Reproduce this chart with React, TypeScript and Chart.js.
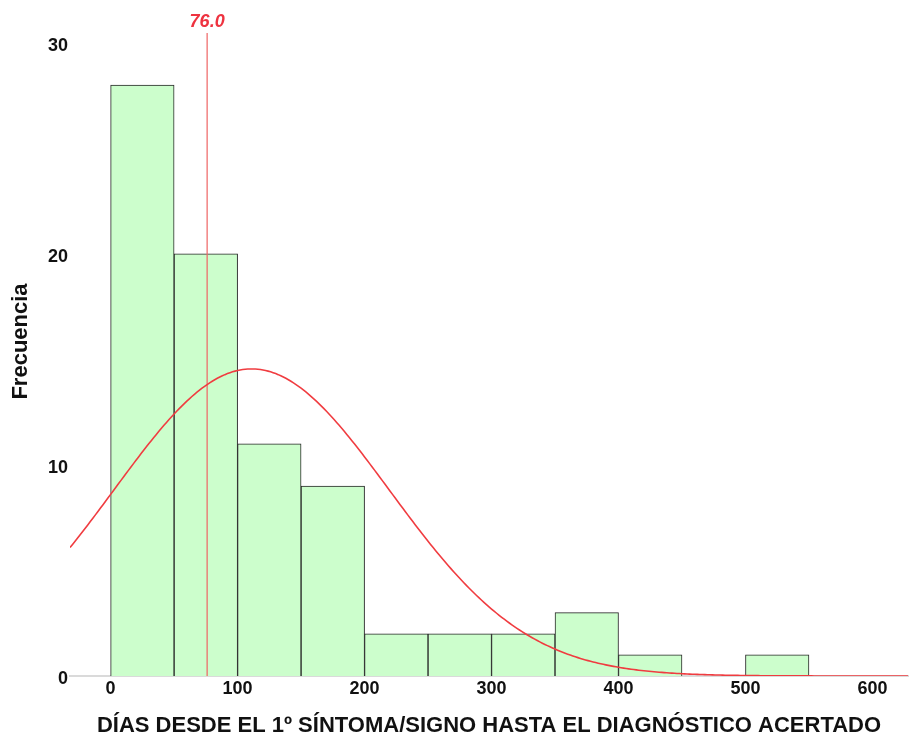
import React, { useEffect, useRef } from 'react';
import { Chart, registerables } from 'chart.js';

Chart.register(...registerables);

// ---- data ----
const binStarts = [0, 50, 100, 150, 200, 250, 300, 350, 400, 450, 500];
const binWidth = 50;
const frequencies = [28, 20, 11, 9, 2, 2, 2, 3, 1, 0, 1];
const xTickValues = [0, 100, 200, 300, 400, 500, 600];
const yTickValues = [0, 10, 20, 30];
const medianValue = 76.0;
const medianLineTop = 30.47;
const fitMean = 111;
const fitSd = 108.3;
const totalN = 79;
const xMin = -32;
const xMax = 628;
const yMax = 31.7;
const xTitle = 'DÍAS DESDE EL 1º SÍNTOMA/SIGNO HASTA EL DIAGNÓSTICO ACERTADO';
const yTitle = 'Frecuencia';

const FONT = '"Liberation Sans", Arial, sans-serif';

const medianLabelPlugin = {
  id: 'medianLabel',
  afterDatasetsDraw(chart: any) {
    const { ctx, scales } = chart;
    const x = scales.x.getPixelForValue(medianValue);
    const y = scales.y.getPixelForValue(medianLineTop);
    ctx.save();
    ctx.fillStyle = '#ee3340';
    ctx.font = `italic bold 18px ${FONT}`;
    ctx.textAlign = 'center';
    ctx.textBaseline = 'middle';
    ctx.fillText(medianValue.toFixed(1), x, y - 11);
    ctx.restore();
  },
};

export default function App() {
  const ref = useRef<HTMLCanvasElement | null>(null);

  useEffect(() => {
    document.body.style.margin = '0';
    const barData = binStarts.map((s, i) => ({ x: s + binWidth / 2, y: frequencies[i] === 0 ? null : frequencies[i] }));
    const curve: { x: number; y: number }[] = [];
    for (let x = xMin; x <= xMax; x += 2) {
      const z = (x - fitMean) / fitSd;
      curve.push({ x, y: (totalN * binWidth) / (fitSd * Math.sqrt(2 * Math.PI)) * Math.exp(-0.5 * z * z) });
    }
    const chart = new Chart(ref.current as HTMLCanvasElement, {
      type: 'bar',
      data: {
        datasets: [
          {
            type: 'line',
            data: curve,
            borderColor: '#f03c40',
            borderWidth: 1.6,
            pointRadius: 0,
            tension: 0,
            fill: false,
            order: 1,
          } as any,
          {
            type: 'line',
            data: [
              { x: medianValue, y: 0 },
              { x: medianValue, y: medianLineTop },
            ],
            borderColor: '#ef6464',
            borderWidth: 1.2,
            pointRadius: 0,
            fill: false,
            order: 2,
          } as any,
          {
            type: 'bar',
            data: barData,
            backgroundColor: '#ccfecc',
            borderColor: '#262626',
            borderWidth: 1,
            barPercentage: 1,
            categoryPercentage: 1,
            order: 3,
          } as any,
        ],
      },
      options: {
        animation: false,
        responsive: true,
        maintainAspectRatio: false,
        layout: { padding: { top: 7, right: 1, left: 0, bottom: 0 } },
        plugins: { legend: { display: false }, tooltip: { enabled: false } },
        scales: {
          x: {
            type: 'linear',
            min: xMin,
            max: xMax,
            offset: false,
            grid: { display: false, drawTicks: false, offset: false },
            border: { display: true, color: '#dadada', width: 2 },
            afterBuildTicks: (s: any) => {
              s.ticks = xTickValues.map((v) => ({ value: v }));
            },
            afterFit: (s: any) => {
              s.height = 60;
              s.paddingLeft = 0;
              s.paddingRight = 0;
            },
            ticks: {
              padding: 2,
              maxRotation: 0,
              autoSkip: false,
              color: '#111',
              font: { family: FONT, size: 18, weight: 'bold' },
            },
            title: {
              display: true,
              text: xTitle,
              color: '#111',
              padding: { top: 0, bottom: -3 },
              font: { family: FONT, size: 22, weight: 'bold' },
            },
          },
          y: {
            type: 'linear',
            min: 0,
            max: yMax,
            grid: { display: false, drawTicks: false },
            border: { display: false },
            afterBuildTicks: (s: any) => {
              s.ticks = yTickValues.map((v) => ({ value: v }));
            },
            afterFit: (s: any) => {
              s.width = 70;
              s.paddingTop = 0;
              s.paddingBottom = 0;
            },
            ticks: {
              padding: 2,
              labelOffset: 3,
              color: '#111',
              font: { family: FONT, size: 18, weight: 'bold' },
            },
            title: {
              display: true,
              text: yTitle,
              color: '#111',
              padding: { top: 8, bottom: 0 },
              font: { family: FONT, size: 22, weight: 'bold' },
            },
          },
        },
      } as any,
      plugins: [medianLabelPlugin],
    });
    return () => chart.destroy();
  }, []);

  return (
    <div style={{ position: 'relative', width: 909, height: 736 }}>
      <canvas ref={ref} />
    </div>
  );
}
